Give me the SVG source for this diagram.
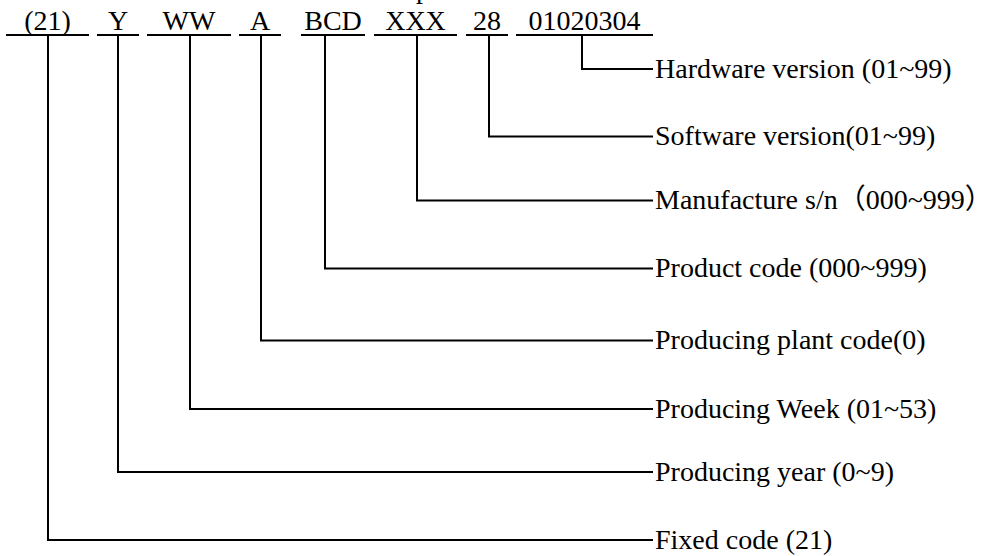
<svg xmlns="http://www.w3.org/2000/svg" width="982" height="556" viewBox="0 0 982 556">
<style>
text { font-family: "Liberation Serif", "Noto Sans CJK SC", serif; font-size: 28px; fill: #000; }
.code { text-anchor: middle; }
.ul { stroke: #000; stroke-width: 2; fill: none; }
.conn { stroke: #000; stroke-width: 2; fill: none; }
</style>
<rect width="982" height="556" fill="#fff"/>
<text x="416" y="-2">p</text>
<g id="seg-21"><text class="code" x="47.5" y="29.5">(21)</text><line class="ul" x1="6" y1="35" x2="89" y2="35"/></g>
<g id="seg-Y"><text class="code" x="118" y="29.5">Y</text><line class="ul" x1="97" y1="35" x2="139" y2="35"/></g>
<g id="seg-WW"><text class="code" x="189" y="29.5">WW</text><line class="ul" x1="147" y1="35" x2="231" y2="35"/></g>
<g id="seg-A"><text class="code" x="260" y="29.5">A</text><line class="ul" x1="239" y1="35" x2="281" y2="35"/></g>
<g id="seg-BCD"><text class="code" x="333" y="29.5">BCD</text><line class="ul" x1="301" y1="35" x2="365" y2="35"/></g>
<g id="seg-XXX"><text class="code" x="415.5" y="29.5">XXX</text><line class="ul" x1="374" y1="35" x2="457" y2="35"/></g>
<g id="seg-28"><text class="code" x="487" y="29.5">28</text><line class="ul" x1="466" y1="35" x2="508" y2="35"/></g>
<g id="seg-hw"><text class="code" x="584.5" y="29.5">01020304</text><line class="ul" x1="516" y1="35" x2="653" y2="35"/></g>
<g id="lbl-hw"><text x="655" y="77.5">Hardware version (01~99)</text></g>
<g id="lbl-sw"><text x="655" y="145">Software version(01~99)</text></g>
<g id="lbl-mfg"><text x="655" y="209">Manufacture s/n（000~999）</text></g>
<g id="lbl-prod"><text x="655" y="277">Product code (000~999)</text></g>
<g id="lbl-plant"><text x="655" y="349">Producing plant code(0)</text></g>
<g id="lbl-week"><text x="655" y="417.5">Producing Week (01~53)</text></g>
<g id="lbl-year"><text x="655" y="480.5">Producing year (0~9)</text></g>
<g id="lbl-fixed"><text x="655" y="548.5">Fixed code (21)</text></g>
<g id="connectors">
<polyline class="conn" points="582,35 582,69 653,69"/>
<polyline class="conn" points="489,35 489,136.5 653,136.5"/>
<polyline class="conn" points="417,35 417,200.5 653,200.5"/>
<polyline class="conn" points="325,35 325,268.5 653,268.5"/>
<polyline class="conn" points="261,35 261,340.5 653,340.5"/>
<polyline class="conn" points="190,35 190,409 653,409"/>
<polyline class="conn" points="118,35 118,472 653,472"/>
<polyline class="conn" points="48,35 48,540 653,540"/>
</g>
</svg>
